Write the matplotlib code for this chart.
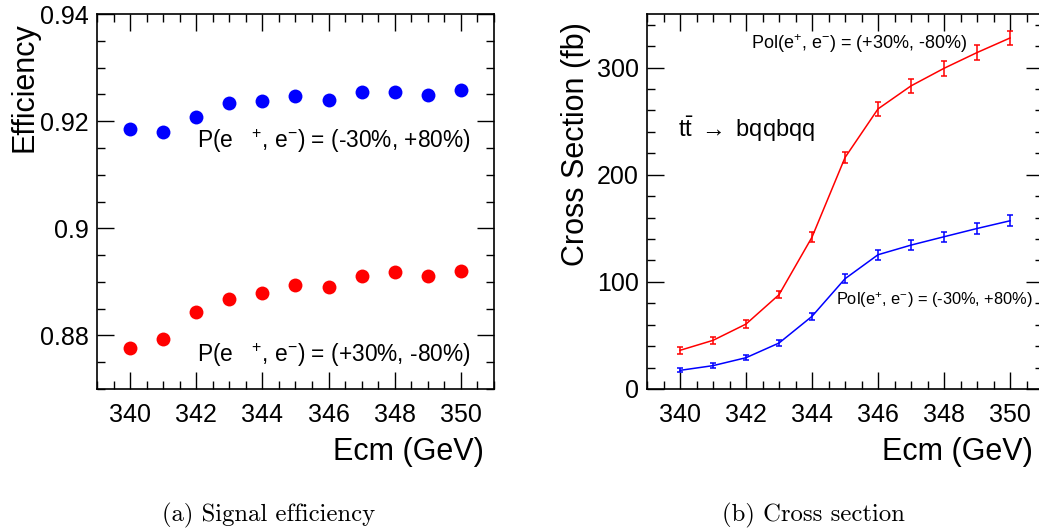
import matplotlib
matplotlib.use("Agg")
import matplotlib.pyplot as plt
from matplotlib.ticker import MultipleLocator

plt.rcParams['font.family'] = ['Liberation Sans', 'DejaVu Sans']
plt.rcParams['mathtext.fontset'] = 'custom'
plt.rcParams['mathtext.rm'] = 'Liberation Sans'
plt.rcParams['mathtext.it'] = 'Liberation Sans:italic'
plt.rcParams['mathtext.bf'] = 'Liberation Sans:bold'

ecm = [340, 341, 342, 343, 344, 345, 346, 347, 348, 349, 350]
eff_m30p80 = [0.9186, 0.9180, 0.9208, 0.9234, 0.9237, 0.9247, 0.9240, 0.9255, 0.9254, 0.9249, 0.9259]
eff_p30m80 = [0.8776, 0.8794, 0.8844, 0.8868, 0.8879, 0.8894, 0.8890, 0.8911, 0.8918, 0.8911, 0.8921]

xs_p30m80 = [36.1, 45.4, 60.6, 88.0, 141.7, 216.0, 261.4, 282.9, 299.3, 314.0, 327.6]
xs_p30m80_err = [3.0, 3.3, 3.4, 3.5, 4.7, 5.4, 6.2, 6.5, 6.7, 6.8, 6.7]
xs_m30p80 = [17.4, 21.8, 29.2, 42.9, 67.8, 102.9, 125.3, 134.3, 142.1, 149.8, 157.0]
xs_m30p80_err = [1.9, 2.2, 2.5, 3.0, 3.5, 4.2, 4.5, 4.6, 4.7, 4.8, 5.0]

W, H = 1039, 531
fig = plt.figure(figsize=(W / 100, H / 100), dpi=100)

def fx(px):
    return px / W

def fy(py):
    return 1 - py / H

def style(ax):
    for s in ax.spines.values():
        s.set_linewidth(1.2)
    ax.tick_params(which='both', direction='in', top=True, right=True, width=1.0)
    ax.tick_params(which='major', length=12, labelsize=18)
    ax.tick_params(which='minor', length=6)
    ax.tick_params(axis='x', which='major', pad=10)
    ax.tick_params(axis='y', which='major', pad=6)

# Left panel
ax1 = fig.add_axes([fx(97), fy(389), fx(494 - 97), (389 - 14) / H])
ax1.plot(ecm, eff_m30p80, 'o', color='#0000ff', markersize=10, markeredgewidth=0)
ax1.plot(ecm, eff_p30m80, 'o', color='#ff0000', markersize=10, markeredgewidth=0)
ax1.set_xlim(339, 351)
ax1.set_ylim(0.87, 0.94)
ax1.xaxis.set_major_locator(MultipleLocator(2))
ax1.xaxis.set_minor_locator(MultipleLocator(0.5))
ax1.yaxis.set_minor_locator(MultipleLocator(0.005))
ax1.set_yticks([0.88, 0.90, 0.92, 0.94])
ax1.set_yticklabels(['0.88', '0.9', '0.92', '0.94'])
style(ax1)

# Right panel
ax2 = fig.add_axes([fx(647), fy(389), fx(396), (389 - 14) / H])
ax2.errorbar(ecm, xs_p30m80, yerr=xs_p30m80_err, color='#ff0000', lw=1.1,
             elinewidth=1.1, capsize=2.5, capthick=1.1)
ax2.errorbar(ecm, xs_m30p80, yerr=xs_m30p80_err, color='#0000ff', lw=1.1,
             elinewidth=1.1, capsize=2.5, capthick=1.1)
ax2.set_xlim(339, 351)
ax2.set_ylim(0, 350)
ax2.xaxis.set_major_locator(MultipleLocator(2))
ax2.xaxis.set_minor_locator(MultipleLocator(0.5))
ax2.yaxis.set_major_locator(MultipleLocator(100))
ax2.yaxis.set_minor_locator(MultipleLocator(20))
style(ax2)

# Axis labels
fig.text(fx(25), fy(22), 'Efficiency', rotation=90, ha='center', va='top', fontsize=22)
fig.text(fx(576), fy(22), 'Cross Section (fb)', rotation=90, ha='center', va='top', fontsize=22)
fig.text(fx(484), fy(452), 'Ecm (GeV)', ha='right', va='center', fontsize=22)
fig.text(fx(1033), fy(452), 'Ecm (GeV)', ha='right', va='center', fontsize=22)

# Annotations
fig.text(fx(197), fy(148), r'P(e   $^{+}$, e$^{-}$) = (-30%, +80%)', fontsize=16.4, va='baseline')
fig.text(fx(197), fy(362), r'P(e   $^{+}$, e$^{-}$) = (+30%, -80%)', fontsize=16.4, va='baseline')
fig.text(fx(751), fy(49), r'Pol(e$^{+}$, e$^{-}$) = (+30%, -80%)', fontsize=13, va='baseline')
fig.text(fx(836), fy(305), r'Pol(e$^{+}$, e$^{-}$) = (-30%, +80%)', fontsize=11.8, va='baseline')
fig.text(fx(678), fy(137), r'$\mathrm{t\bar{t}}$ $\rightarrow$ bqqbqq', fontsize=17, va='baseline')

# Captions
fig.text(fx(269), fy(515), '(a) Signal efficiency', ha='center', va='center', fontsize=17.8,
         family='cmr10')
fig.text(fx(813), fy(515), '(b) Cross section', ha='center', va='center', fontsize=17.8,
         family='cmr10')

fig.savefig('out.png', dpi=100)
